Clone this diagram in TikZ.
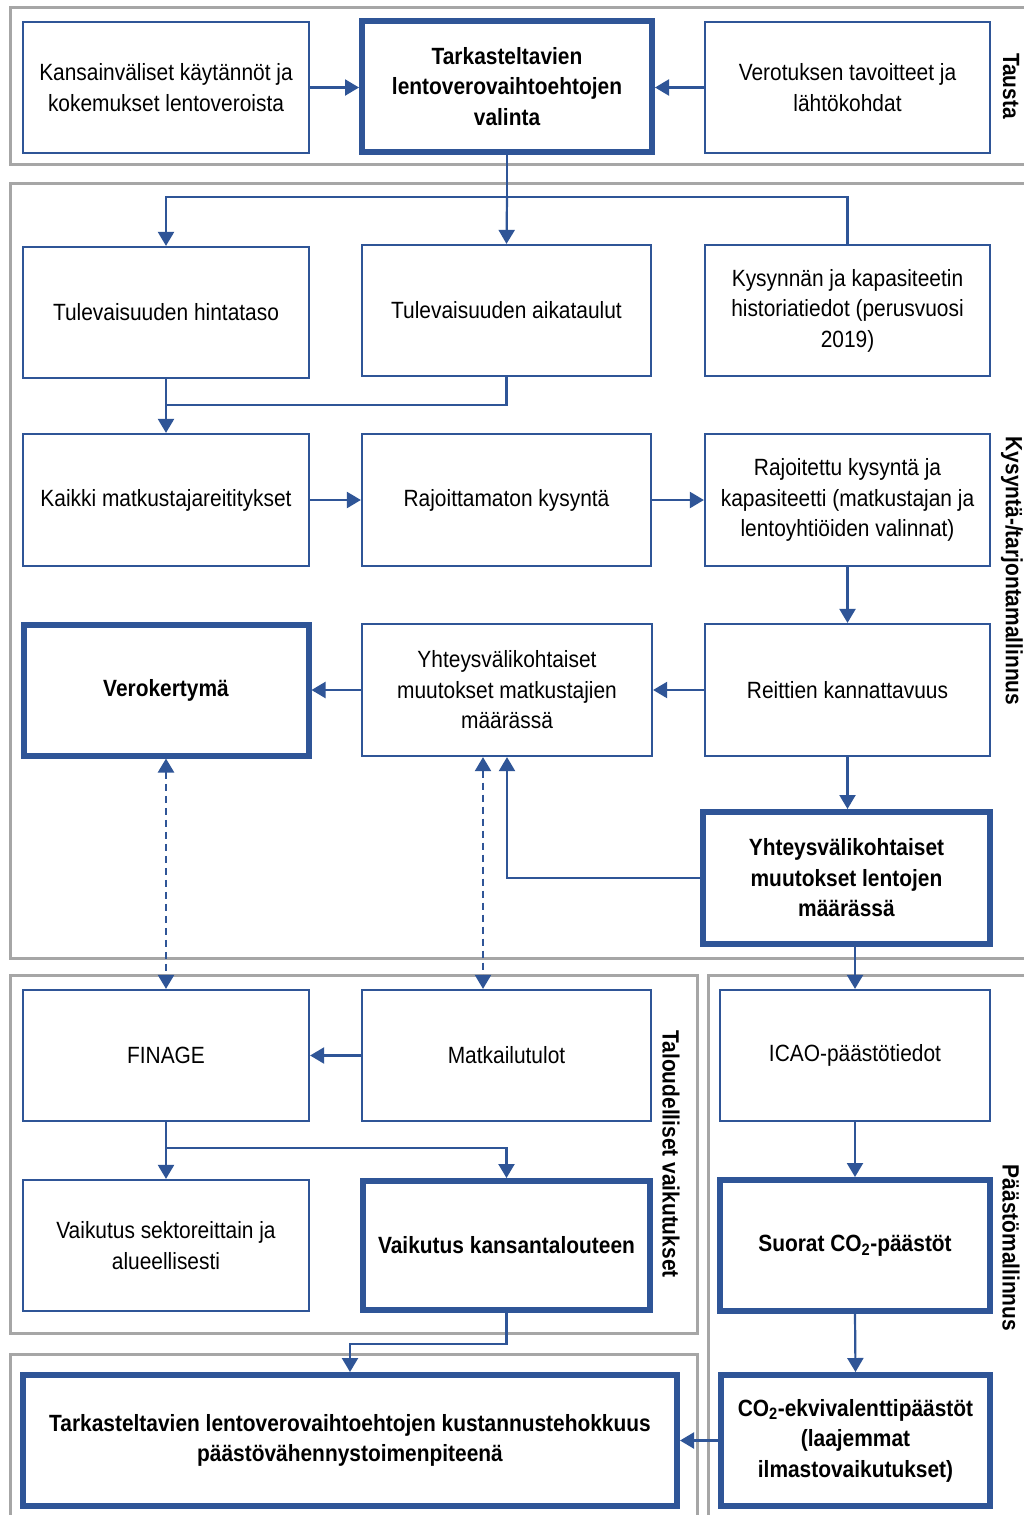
\documentclass[tikz,border=0pt]{standalone}
\usepackage{fontspec}
\setmainfont[FakeStretch=0.89]{Liberation Sans}
\usetikzlibrary{arrows.meta,calc}
\definecolor{cblue}{HTML}{2F5597}
\definecolor{cgray}{HTML}{A6A6A6}
\begin{document}
\begin{tikzpicture}[x=1pt,y=-1pt,
  box/.style={draw=cblue,line width=2.2pt,fill=white,align=center,inner sep=0pt,
    text=black,font=\fontsize{23.5}{30.5}\selectfont},
  boldbox/.style={box,line width=6pt,font=\fontsize{23.5}{30.5}\selectfont\bfseries},
  sz/.style 2 args={minimum width=#1pt,minimum height=#2pt},
  conn/.style={draw=cblue,line width=2.2pt},
  arr/.style={conn,-{Triangle[width=16pt,length=14pt]}},
  darr/.style={conn,dash pattern=on 7pt off 5pt,{Triangle[width=16pt,length=14pt]}-{Triangle[width=16pt,length=14pt]}},
  frame/.style={draw=cgray,line width=3pt},
  glabel/.style={rotate=-90,font=\fontsize{23.5}{28}\selectfont\bfseries,text=black,inner sep=0pt}
]
\path[use as bounding box] (0,0) rectangle (1024,1515);
\clip (0,0) rectangle (1024,1515);
\fill[white] (0,0) rectangle (1024,1515);

% group frames
\draw[frame] (10.5,7.5) rectangle (1040,164.5);
\draw[frame] (10.5,183) rectangle (1040,958);
\draw[frame] (10.5,975.5) rectangle (697,1333);
\draw[frame] (708,975.5) rectangle (1040,1530);
\draw[frame] (10.5,1354) rectangle (697,1530);

% group labels
\node[glabel] (lTausta) at (1011,86) {Tausta};
\node[glabel] (lKysynta) at (1012,571) {Kysyntä-/tarjontamallinnus};
\node[glabel] (lTalous) at (671,1154) {Taloudelliset vaikutukset};
\node[glabel] (lPaasto) at (1011,1248) {Päästömallinnus};

% boxes
\node[box,sz={286}{131}] (A1) at (166,87.5) {Kansainväliset käytännöt ja\\kokemukset lentoveroista};
\node[boldbox,sz={290}{131}] (A2) at (507,86.5) {Tarkasteltavien\\lentoverovaihtoehtojen\\valinta};
\node[box,sz={285}{131}] (A3) at (847.5,87.5) {Verotuksen tavoitteet ja\\lähtökohdat};

\node[box,sz={286}{131}] (B1) at (166,312.5) {Tulevaisuuden hintataso};
\node[box,sz={289}{131}] (B2) at (506.5,310.5) {Tulevaisuuden aikataulut};
\node[box,sz={285}{131}] (B3) at (847.5,310.5) {Kysynnän ja kapasiteetin\\historiatiedot (perusvuosi\\2019)};

\node[box,sz={286}{132}] (C1) at (166,500) {Kaikki matkustajareititykset};
\node[box,sz={289}{132}] (C2) at (506.5,500) {Rajoittamaton kysyntä};
\node[box,sz={285}{132}] (C3) at (847.5,500) {Rajoitettu kysyntä ja\\kapasiteetti (matkustajan ja\\lentoyhtiöiden valinnat)};

\node[boldbox,sz={285}{131}] (D1) at (166,690) {Verokertymä};
\node[box,sz={290}{132}] (D2) at (507,690) {Yhteysvälikohtaiset\\muutokset matkustajien\\määrässä};
\node[box,sz={285}{132}] (D3) at (847.5,690) {Reittien kannattavuus};

\node[boldbox,sz={287}{132}] (E3) at (846.5,878) {Yhteysvälikohtaiset\\muutokset lentojen\\määrässä};

\node[box,sz={286}{131}] (F1) at (166,1055.5) {FINAGE};
\node[box,sz={289}{131}] (F2) at (506.5,1055.5) {Matkailutulot};
\node[box,sz={270}{131}] (F3) at (855,1055.5) {ICAO-päästötiedot};

\node[box,sz={286}{131}] (G1) at (166,1245.5) {Vaikutus sektoreittain ja\\alueellisesti};
\node[boldbox,sz={287}{129}] (G2) at (506.5,1245.5) {Vaikutus kansantalouteen};
\node[boldbox,sz={270}{131}] (G3) at (855,1245.5) {Suorat CO\textsubscript{2}-päästöt};

\node[boldbox,sz={654}{131}] (H1) at (350,1440.5) {Tarkasteltavien lentoverovaihtoehtojen kustannustehokkuus\\päästövähennystoimenpiteenä};
\node[boldbox,sz={269}{131}] (H3) at (855.5,1440.5) {CO\textsubscript{2}-ekvivalenttipäästöt\\(laajemmat\\ilmastovaikutukset)};

% junction coordinates
\coordinate (j1) at (507,197);
\coordinate (jB) at (166,405);
\coordinate (jF) at (166,1148);
\coordinate (jG) at (350,1344);

% connectors
\draw[arr] (A1.east) -- (A1.east -| A2.west);
\draw[arr] (A3.west) -- (A3.west -| A2.east);
\draw[conn] (A2.south) -- (j1);
\draw[arr] (j1) -| (B1.north);
\draw[arr] (j1) -- (B2.north);
\draw[conn] (j1) -| (B3.north);
\draw[arr] (B1.south) -- (C1.north);
\draw[conn] (B2.south) |- (jB);
\draw[arr] (C1.east) -- (C2.west);
\draw[arr] (C2.east) -- (C3.west);
\draw[arr] (C3.south) -- (D3.north);
\draw[arr] (D3.west) -- (D2.east);
\draw[arr] (D2.west) -- (D1.east);
\draw[arr] (D3.south) -- (D3.south |- E3.north);
\draw[arr] (E3.west) -| (D2.south);
\draw[darr] (D1.south) -- (F1.north);
\draw[darr] ([xshift=-24pt]D2.south) -- ([xshift=-24pt]D2.south |- F2.north);
\draw[arr] (F3.north |- E3.south) -- (F3.north);
\draw[arr] (F2.west) -- (F1.east);
\draw[conn] (F1.south) -- (jF);
\draw[arr] (jF) -- (G1.north);
\draw[arr] (jF) -| (G2.north);
\draw[arr] (G2.south) |- (jG) -- (H1.north);
\draw[arr] (F3.south) -- (G3.north);
\draw[arr] (G3.south) -- (H3.north);
\draw[arr] (H3.west) -- (H3.west -| H1.east);
\end{tikzpicture}
\end{document}
